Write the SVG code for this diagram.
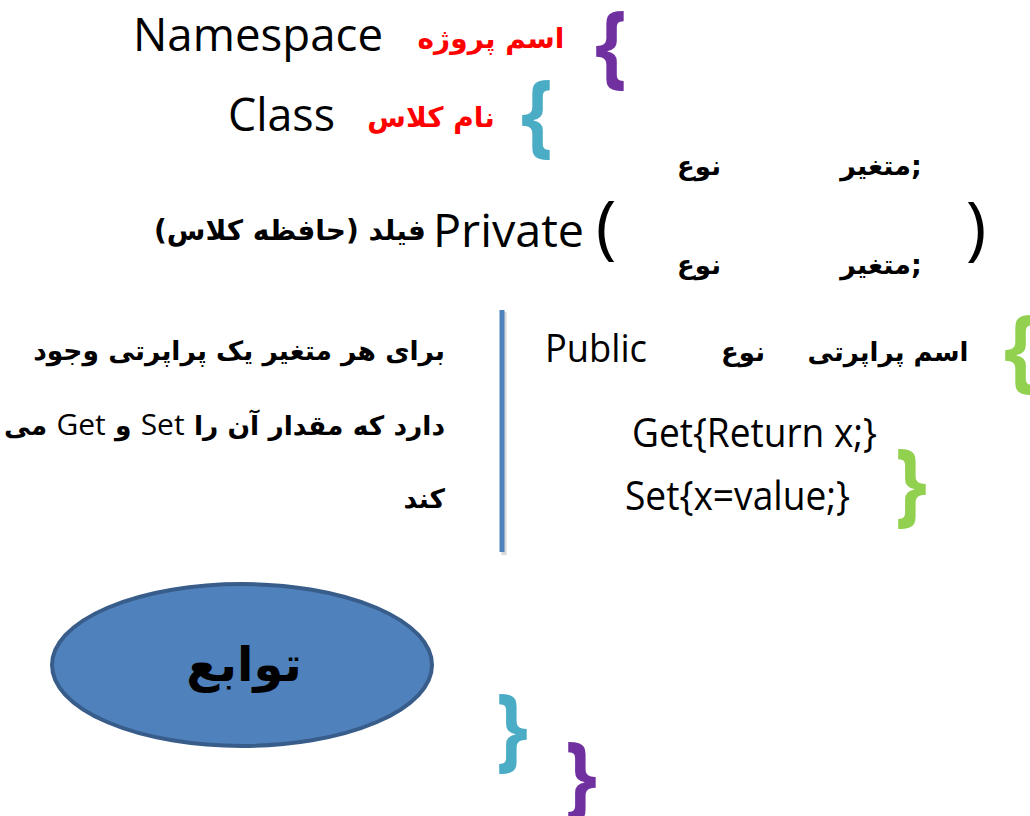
<svg xmlns="http://www.w3.org/2000/svg" width="1030" height="816" viewBox="0 0 1030 816">
<style>
.lat{font-family:"Open Sans","Liberation Sans",sans-serif;fill:#000}
.fa{font-family:"DejaVu Sans",sans-serif;font-weight:bold;fill:#000}
.red{fill:#FF0000}
.rtl{direction:rtl;unicode-bidi:embed}
.br{font-family:"Open Sans","Liberation Sans",sans-serif;font-weight:bold;text-anchor:middle;font-size:92px}
.par{font-family:"Open Sans","Liberation Sans",sans-serif;text-anchor:middle;fill:#000}
.purple{fill:#7030A0}
.cyan{fill:#4BACC6}
.green{fill:#92D050}
</style>
<rect width="1030" height="816" fill="#FFFFFF"/>
<g id="namespace">
<text class="lat" x="133" y="51" font-size="46" textLength="250" lengthAdjust="spacingAndGlyphs">Namespace</text>
<text class="fa red" x="491" y="48" font-size="28" text-anchor="middle">اسم پروژه</text>
<text class="br purple" transform="translate(611,77) scale(0.88,1)">{</text>
</g>
<g id="class">
<text class="lat" x="228" y="131" font-size="46" textLength="107" lengthAdjust="spacingAndGlyphs">Class</text>
<text class="fa red" x="431" y="127" font-size="28" text-anchor="middle">نام کلاس</text>
<text class="br cyan" transform="translate(537,146) scale(0.88,1)">{</text>
</g>
<g id="fields">
<text class="fa" x="881" y="175" font-size="27" text-anchor="middle">متغیر;</text>
<text class="fa" x="699" y="175" font-size="26" text-anchor="middle">نوع</text>
<text class="fa" x="881" y="274" font-size="27" text-anchor="middle">متغیر;</text>
<text class="fa" x="699" y="274" font-size="26" text-anchor="middle">نوع</text>
<text class="lat" x="433" y="247" font-size="46" textLength="151" lengthAdjust="spacingAndGlyphs">Private</text>
<text class="fa rtl" x="290" y="240" font-size="28" text-anchor="middle">فیلد (حافظه کلاس)</text>
<text class="par" x="606" y="251" font-size="70">(</text>
<text class="par" x="976" y="252" font-size="70">)</text>
</g>
<g id="description">
<text class="fa rtl" x="445" y="360" font-size="26.5" text-anchor="start">برای هر متغیر یک پراپرتی وجود</text>
<text class="fa rtl" x="445" y="435" font-size="26.5" text-anchor="start">دارد که مقدار آن را <tspan class="lat" font-weight="normal" font-size="30">Set</tspan> و <tspan class="lat" font-weight="normal" font-size="30">Get</tspan> می</text>
<text class="fa rtl" x="445" y="508" font-size="26.5" text-anchor="start">کند</text>
</g>
<g id="divider">
<line x1="504" y1="312" x2="504" y2="555" stroke="#BFBFBF" stroke-width="5" opacity="0.6"/>
<line x1="502" y1="310" x2="502" y2="552" stroke="#4F81BD" stroke-width="5"/>
</g>
<g id="property">
<text class="lat" x="545" y="362" font-size="38" textLength="102" lengthAdjust="spacingAndGlyphs">Public</text>
<text class="fa" x="743" y="361" font-size="26" text-anchor="middle">نوع</text>
<text class="fa" x="888" y="361" font-size="26" text-anchor="middle">اسم پراپرتی</text>
<text class="br green" transform="translate(1020,381) scale(0.88,1)">{</text>
<text class="lat" x="632" y="447" font-size="40" textLength="245" lengthAdjust="spacingAndGlyphs">Get{Return x;}</text>
<text class="lat" x="625" y="510" font-size="40" textLength="225" lengthAdjust="spacingAndGlyphs">Set{x=value;}</text>
<text class="br green" transform="translate(911,515) scale(0.88,1)">}</text>
</g>
<g id="functions">
<ellipse cx="242" cy="665" rx="190" ry="81" fill="#4F81BD" stroke="#385D8A" stroke-width="4"/>
<text class="fa" x="244" y="681" font-size="48" text-anchor="middle">توابع</text>
</g>
<g id="closing">
<text class="br cyan" transform="translate(512,760) scale(0.88,1)">}</text>
<text class="br purple" transform="translate(581,808) scale(0.88,1)">}</text>
</g>
<g id="connectors"></g>
</svg>
